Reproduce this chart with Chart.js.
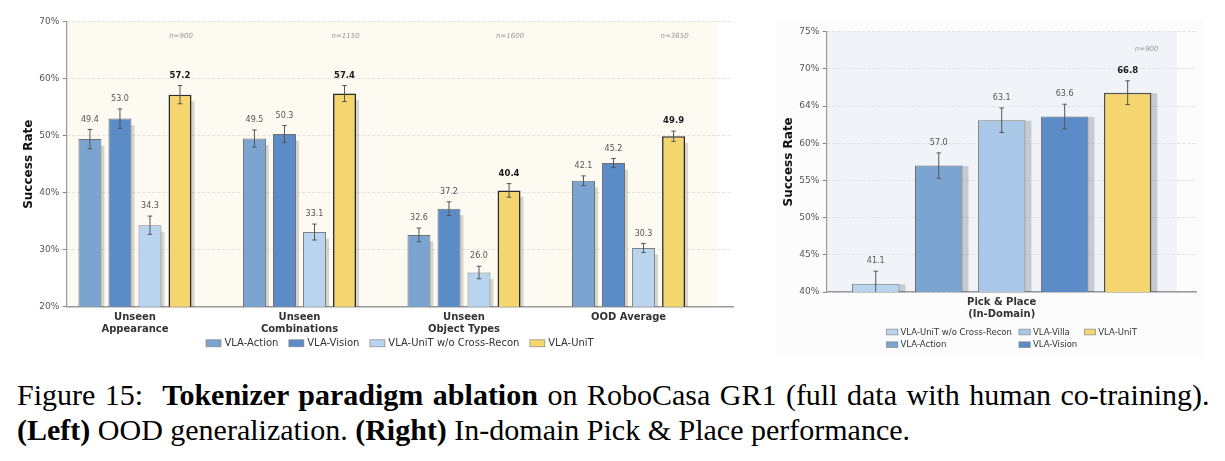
<!DOCTYPE html>
<html>
<head>
<meta charset="utf-8">
<script src="https://cdn.jsdelivr.net/npm/chart.js@4.4.0/dist/chart.umd.min.js"></script>
<style>
    html, body { margin: 0; padding: 0; background: #fff; }
    body { width: 1225px; height: 461px; position: relative; overflow: hidden; }
    #leftBox { position: absolute; left: 0; top: 0; width: 760px; height: 365px; }
    #rightBg { position: absolute; left: 776px; top: 20px; width: 427px; height: 338px; background: #fcfcfc; }
    #rightBox { position: absolute; left: 760px; top: 0; width: 465px; height: 365px; }
    #caption {
        position: absolute; left: 17px; top: 377px;
        font-family: 'Liberation Serif', serif; font-size: 30px; line-height: 35px;
        color: #000; white-space: nowrap;
    }
    #caption .l1 { word-spacing: 2px; }
</style>
</head>
<body>
<div id="leftBox"><canvas id="oodChart" width="760" height="365"></canvas></div>
<div id="rightBg"></div>
<div id="rightBox"><canvas id="pickChart" width="465" height="365"></canvas></div>
<div id="caption">
    <div class="l1">Figure 15:&nbsp; <b>Tokenizer paradigm ablation</b> on RoboCasa GR1 (full data with human co-training).</div>
    <div><b>(Left)</b> OOD generalization. <b>(Right)</b> In-domain Pick &amp; Place performance.</div>
</div>

<script>
// -- Left: OOD generalization --
const oodGroups = [['Unseen', 'Appearance'], ['Unseen', 'Combinations'], ['Unseen', 'Object Types'], ['OOD Average']];
const oodN = ['n=900', 'n=1150', 'n=1600', 'n=3650'];
const oodAction = [49.4, 49.5, 32.6, 42.1];
const oodActionErr = [1.7, 1.5, 1.2, 0.85];
const oodVision = [53.0, 50.3, 37.2, 45.2];
const oodVisionErr = [1.7, 1.5, 1.2, 0.8];
const oodNoRecon = [34.3, 33.1, 26.0, 30.3];
const oodNoReconErr = [1.6, 1.4, 1.1, 0.8];
const oodUnit = [57.2, 57.4, 40.4, 49.9];
const oodUnitErr = [1.6, 1.4, 1.2, 0.9];
const oodTicks = [20, 30, 40, 50, 60, 70];
const oodTickLabels = ['20%', '30%', '40%', '50%', '60%', '70%'];

// -- Right: in-domain Pick & Place --
const pickGroups = [['Pick & Place', '(In-Domain)']];
const pickN = ['n=900'];
const pickNoRecon = [41.1];
const pickNoReconErr = [1.7];
const pickAction = [57.0];
const pickActionErr = [1.7];
const pickVilla = [63.1];
const pickVillaErr = [1.65];
const pickVision = [63.6];
const pickVisionErr = [1.65];
const pickUnit = [66.8];
const pickUnitErr = [1.6];
const pickTicks = [40, 45, 50, 55, 60, 65, 70, 75];
const pickTickLabels = ['40%', '45%', '50%', '55%', '60%', '64%', '70%', '75%'];

Chart.defaults.font.family = 'DejaVu Sans';

function bar(label, values, errs, fill, edge, bold) {
    return {
        label: label, data: values, errs: errs,
        backgroundColor: fill, borderColor: edge,
        borderWidth: bold ? 1.6 : 1, bold: !!bold
    };
}

// background band, bar shadows, error bars, value labels, n= labels
const decor = {
    id: 'decor',
    beforeDraw(chart, args, o) {
        const {ctx, chartArea, scales} = chart;
        ctx.save();
        ctx.fillStyle = o.bgColor;
        const xEnd = scales.x.getPixelForValue(o.bgEnd);
        ctx.fillRect(chartArea.left, chartArea.top, xEnd - chartArea.left, chartArea.height);
        ctx.restore();
    },
    beforeDatasetsDraw(chart, args, o) {
        const {ctx, chartArea} = chart;
        ctx.save();
        ctx.beginPath();
        ctx.rect(chartArea.left, chartArea.top, chartArea.width, chartArea.height);
        ctx.clip();
        ctx.fillStyle = o.shadowColor;
        chart.data.datasets.forEach((ds, di) => {
            chart.getDatasetMeta(di).data.forEach(b => {
                ctx.fillRect(b.x - b.width / 2 + o.shadowDx, b.y + o.shadowDy, b.width, b.base - b.y);
            });
        });
        ctx.restore();
    },
    afterDatasetsDraw(chart, args, o) {
        const {ctx, chartArea, scales} = chart;
        const y = scales.y;
        // error bars (clipped)
        ctx.save();
        ctx.beginPath();
        ctx.rect(chartArea.left, chartArea.top, chartArea.width, chartArea.height);
        ctx.clip();
        ctx.strokeStyle = '#555';
        ctx.lineWidth = 1;
        chart.data.datasets.forEach((ds, di) => {
            chart.getDatasetMeta(di).data.forEach((b, i) => {
                const v = ds.data[i], e = ds.errs[i];
                const yt = y.getPixelForValue(v + e), yb = y.getPixelForValue(v - e);
                ctx.beginPath();
                ctx.moveTo(b.x, yt); ctx.lineTo(b.x, yb);
                ctx.moveTo(b.x - 2.3, yt); ctx.lineTo(b.x + 2.3, yt);
                ctx.moveTo(b.x - 2.3, yb); ctx.lineTo(b.x + 2.3, yb);
                ctx.stroke();
            });
        });
        ctx.restore();

        // value labels
        ctx.save();
        ctx.textAlign = 'center';
        ctx.textBaseline = 'middle';
        chart.data.datasets.forEach((ds, di) => {
            ctx.font = ds.bold ? 'bold 8.5px "DejaVu Sans"' : '8px "DejaVu Sans"';
            ctx.fillStyle = ds.bold ? '#1a1a1a' : '#555';
            chart.getDatasetMeta(di).data.forEach((b, i) => {
                const yt = y.getPixelForValue(ds.data[i] + ds.errs[i]);
                ctx.fillText(ds.data[i].toFixed(1), b.x, yt - 10);
            });
        });

        // n= labels above the last bar of each group
        const last = chart.getDatasetMeta(chart.data.datasets.length - 1).data;
        ctx.font = 'italic 7px "DejaVu Sans"';
        ctx.fillStyle = '#999';
        o.nLabels.forEach((t, i) => {
            ctx.fillText(t, last[i].x + o.nDx, chartArea.top + o.nDy);
        });
        ctx.restore();
    }
};

// legend laid out in columns (column-major like matplotlib ncol)
const gridLegend = {
    id: 'gridLegend',
    afterDraw(chart, args, o) {
        const {ctx, chartArea} = chart;
        const items = chart.data.datasets;
        const nrow = Math.ceil(items.length / o.ncol);
        ctx.save();
        ctx.font = o.font;
        let widths = [];
        for (let c = 0; c < o.ncol; c++) {
            let w = 0;
            for (let r = 0; r < nrow; r++) {
                const ds = items[c * nrow + r];
                if (ds) w = Math.max(w, ctx.measureText(ds.label).width);
            }
            widths.push(o.boxW + o.gap + w);
        }
        const total = widths.reduce((a, b) => a + b, 0) + o.colGap * (o.ncol - 1);
        let x = (chartArea.left + chartArea.right) / 2 - total / 2;
        ctx.textBaseline = 'middle';
        ctx.textAlign = 'left';
        for (let c = 0; c < o.ncol; c++) {
            for (let r = 0; r < nrow; r++) {
                const ds = items[c * nrow + r];
                if (!ds) continue;
                const cy = chartArea.bottom + o.y + r * o.rowH;
                ctx.fillStyle = ds.backgroundColor;
                ctx.fillRect(x, cy - o.boxH / 2, o.boxW, o.boxH);
                ctx.strokeStyle = '#888';
                ctx.lineWidth = 0.7;
                ctx.strokeRect(x, cy - o.boxH / 2, o.boxW, o.boxH);
                ctx.fillStyle = '#333';
                ctx.fillText(ds.label, x + o.boxW + o.gap, cy + 0.5);
            }
            x += widths[c] + o.colGap;
        }
        ctx.restore();
    }
};

function makeChart(id, groups, nLabels, datasets, yTicks, yTickLabels, look) {
    return new Chart(document.getElementById(id), {
        type: 'bar',
        data: { labels: groups.map((g, i) => i), datasets: datasets },
        plugins: [decor, gridLegend],
        options: {
            responsive: false,
            animation: false,
            layout: { padding: look.padding },
            datasets: { bar: { categoryPercentage: look.catPct, barPercentage: look.barPct } },
            plugins: {
                legend: { display: false },
                tooltip: { enabled: false },
                decor: {
                    bgColor: look.bgColor, bgEnd: look.bgEnd,
                    shadowColor: look.shadowColor, shadowDx: look.shadowDx, shadowDy: look.shadowDy,
                    nLabels: nLabels, nDx: look.nDx, nDy: look.nDy
                },
                gridLegend: look.legend
            },
            scales: {
                x: {
                    type: 'linear', offset: false, min: look.xMin, max: look.xMax,
                    afterBuildTicks: s => { s.ticks = groups.map((g, i) => ({ value: i })); },
                    afterFit: s => { s.height = look.xHeight; },
                    ticks: {
                        autoSkip: false, maxRotation: 0, padding: 4.5, color: '#333',
                        font: { size: 10, weight: 'bold', lineHeight: 1.2 },
                        callback: v => groups[v]
                    },
                    grid: { display: false, drawTicks: false },
                    border: { color: '#9a9a9a', width: 1.5 }
                },
                y: {
                    min: yTicks[0], max: yTicks[yTicks.length - 1],
                    afterBuildTicks: s => { s.ticks = yTicks.map(v => ({ value: v })); },
                    afterFit: s => { s.width = look.yWidth; },
                    ticks: { padding: 3.5, color: '#555', font: { size: 9 }, callback: (v, i) => yTickLabels[i] },
                    grid: {
                        color: '#d9d9d9', lineWidth: 0.8, borderDash: [3, 2],
                        tickLength: 4, tickColor: '#888', tickWidth: 1, tickBorderDash: []
                    },
                    border: { color: '#9a9a9a', width: 1.2, dash: [3, 2] },
                    title: {
                        display: true, text: 'Success Rate', color: '#111',
                        font: { size: 12, weight: 'bold' }, padding: { top: 22, bottom: 0 }
                    }
                }
            }
        }
    });
}

const oodChart = makeChart('oodChart', oodGroups, oodN, [
    bar('VLA-Action', oodAction, oodActionErr, '#7ba4d0', '#707070'),
    bar('VLA-Vision', oodVision, oodVisionErr, '#5b8cc8', '#707070'),
    bar('VLA-UniT w/o Cross-Recon', oodNoRecon, oodNoReconErr, '#b9d4ef', '#808080'),
    bar('VLA-UniT', oodUnit, oodUnitErr, '#f5d56e', '#2a2a2a', true)
], oodTicks, oodTickLabels, {
    padding: { left: 0, right: 27, top: 21.7, bottom: 26 },
    xHeight: 32.3, yWidth: 66.7,
    xMin: -0.415, xMax: 3.635, catPct: 0.73, barPct: 0.766,
    bgColor: '#fdfaf1', bgEnd: 3.544,
    shadowColor: 'rgba(0,0,0,0.15)', shadowDx: 3, shadowDy: 6.5,
    nDx: 1, nDy: 14,
    legend: { ncol: 4, font: '10px "DejaVu Sans"', boxW: 15, boxH: 7, gap: 3.4, colGap: 10.5, rowH: 12, y: 36.6 }
});

const pickChart = makeChart('pickChart', pickGroups, pickN, [
    bar('VLA-UniT w/o Cross-Recon', pickNoRecon, pickNoReconErr, '#b9d4ef', '#808080'),
    bar('VLA-Action', pickAction, pickActionErr, '#7ba4d0', '#707070'),
    bar('VLA-Villa', pickVilla, pickVillaErr, '#a9c8e7', '#808080'),
    bar('VLA-Vision', pickVision, pickVisionErr, '#5b8cc8', '#707070'),
    bar('VLA-UniT', pickUnit, pickUnitErr, '#f5d66e', '#505050', true)
], pickTicks, pickTickLabels, {
    padding: { left: 0, right: 28.3, top: 31.7, bottom: 43 },
    xHeight: 30, yWidth: 66.7,
    xMin: -0.473, xMax: 0.527, catPct: 0.851, barPct: 0.754,
    bgColor: '#f0f4f9', bgEnd: 0.473,
    shadowColor: 'rgba(0,0,0,0.17)', shadowDx: 6, shadowDy: 0.5,
    nDx: 19, nDy: 17.3,
    legend: { ncol: 3, font: '8.5px "DejaVu Sans"', boxW: 11.3, boxH: 5.7, gap: 2.7, colGap: 7, rowH: 12.7, y: 40 }
});
</script>
</body>
</html>
